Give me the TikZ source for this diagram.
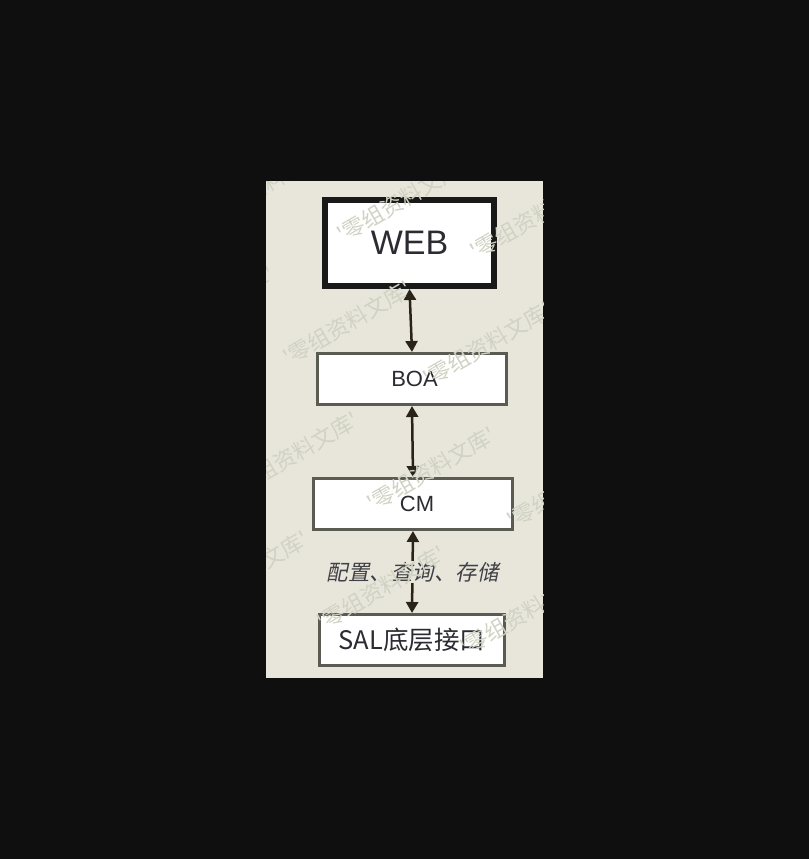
\documentclass[tikz,border=0pt]{standalone}
\usepackage{fontspec}
\setmainfont{Liberation Sans}
\newfontfamily\cjk{Noto Sans CJK SC}
\newfontfamily\cjkit[FakeSlant=0.2]{Noto Sans CJK SC}
\usetikzlibrary{arrows.meta}
\definecolor{bg}{HTML}{0F0F0F}
\definecolor{panel}{HTML}{E8E6DA}
\definecolor{edge}{HTML}{5A5B52}
\definecolor{ink}{HTML}{2B2B32}
\definecolor{wire}{HTML}{2A2418}
\definecolor{wmark}{HTML}{D0D3C3}
\begin{document}
\begin{tikzpicture}[x=1pt,y=-1pt,>={Triangle[length=11pt,width=12pt]},
	layer/.style={draw=edge,line width=3pt,fill=white,text=ink,minimum height=51pt,inner sep=0pt},
	link/.style={<->,draw=wire,line width=2.5pt},
	wm/.style={text=wmark,rotate=30,anchor=base west,inner sep=0pt,font=\cjk\fontsize{22}{22}\selectfont}]
		\fill[bg] (0,0) rectangle (809,859);
		\fill[panel] (266,181) rectangle (543,678);
		\node[draw=black!90,line width=6pt,fill=white,text=ink,minimum width=169pt,minimum height=86pt,font=\fontsize{34}{34}\selectfont] (web) at (409.5,243) {WEB};
		\node[layer,minimum width=189pt,font=\fontsize{22}{22}\selectfont] (boa) at (412,379) {\hspace*{5pt}BOA};
		\node[layer,minimum width=199pt,font=\fontsize{22}{22}\selectfont] (cm) at (413,504) {\hspace*{8pt}CM};
		\node[layer,minimum width=185pt,font=\cjk\fontsize{25.5}{25.5}\selectfont] (sal) at (412,640) {SAL底层接口};
		\draw[link] (web.south)--(boa.north);
		\draw[link] (boa.south)--(cm.north);
		\draw[link] (cm.south)--node[fill=panel,text=ink!90,inner sep=1pt,font=\cjkit\fontsize{21.5}{21.5}\selectfont] (op) {配置、查询、存储} (sal.north);
		\begin{scope}
		\clip (266,181) rectangle (543,678);
		\foreach \p [count=\i] in {(206,229),(343,244),(476,261),(152,352),(289,367),(429,388),(236,498),(373,513),(513,530),(186,617),(323,632),(466,657)}
		\node[wm] (wm\i) at \p {'零组资料文库'};
		\end{scope}
\end{tikzpicture}
\end{document}
